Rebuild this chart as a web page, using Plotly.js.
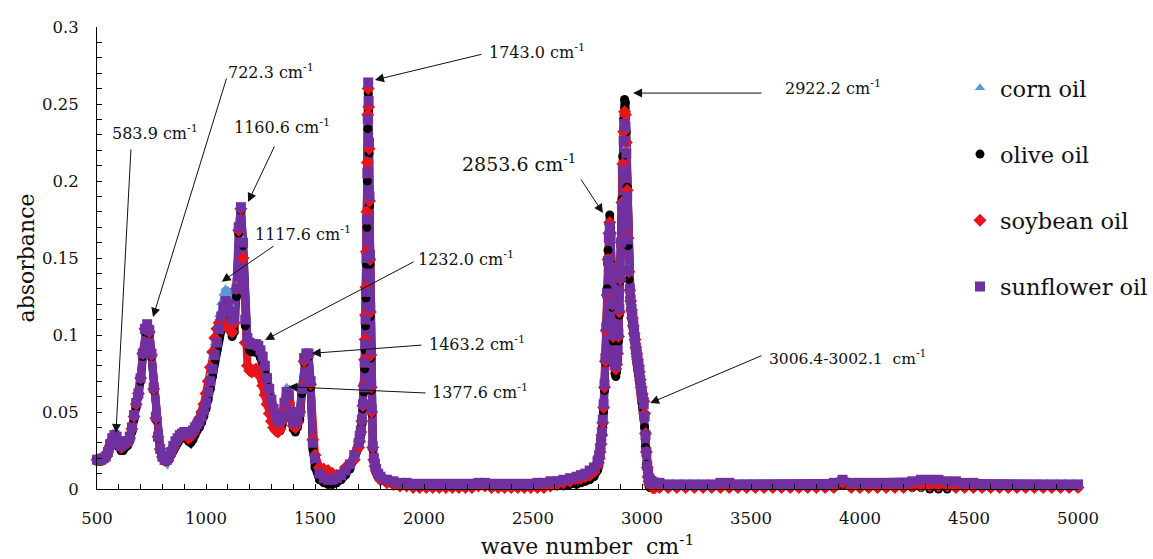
<!DOCTYPE html>
<html>
<head>
<meta charset="utf-8">
<script src="https://cdn.plot.ly/plotly-3.0.1.min.js"></script>
<style>html,body{margin:0;padding:0;background:#fff;}#chart{width:1153px;height:559px;}</style>
</head>
<body>
<div id="chart"></div>
<script>
// wave number (cm-1)
const wavenumber = [
500,510,520,530,540,550,560,570,580,590,
600,610,620,630,640,650,660,670,680,690,
700,710,720,730,740,750,760,770,780,790,
800,810,820,830,840,850,860,870,880,890,
900,910,920,930,940,950,960,970,980,990,
1000,1010,1020,1030,1040,1050,1060,1070,1080,1090,
1100,1110,1120,1130,1140,1150,1160,1170,1180,1190,
1200,1210,1220,1230,1240,1250,1260,1270,1280,1290,
1300,1310,1320,1330,1340,1350,1360,1370,1380,1390,
1400,1410,1420,1430,1440,1450,1460,1470,1480,1490,
1500,1520,1540,1560,1580,1600,1620,1640,1660,1680,1700,
1705,1710,1715,1720,1724,1728,1730,1732,1734,1736,
1738,1740,1742,1744,1746,1748,1750,1752,1754,1756,
1758,1760,1765,1770,1775,1780,1790,
1800,1830,1860,1890,1920,1950,1980,2010,2040,2070,
2100,2130,2160,2190,2220,2250,2280,2310,2340,2370,
2400,2430,2460,2490,2520,2550,2580,2610,2640,2670,
2700,
2720,2740,2760,2780,2796,
2800,2804,2808,2812,2816,2820,2824,2828,2832,2836,
2840,2844,2848,2852,2856,2860,2864,2868,2872,2876,
2880,2884,2888,2892,2896,2900,2904,2908,2912,2916,
2920,2924,2928,2932,2936,2940,2944,2948,2952,2956,
2960,2964,2968,2972,2976,2980,2984,2988,2992,2996,
3000,3004,3008,3012,3016,3020,3024,3028,3032,3036,
3040,3044,3048,3052,3056,3060,
3080,3120,3160,3200,3240,3280,3320,3360,3400,3440,
3480,3520,3560,3600,3640,3680,3720,3760,3800,3840,
3880,3920,3960,4000,4040,4080,4120,4160,4200,4240,
4280,4320,4360,4400,4440,4480,4520,4560,4600,4640,
4680,4720,4760,4800,4840,4880,4920,4960,5000
];

const cornOil = [
.019,.019,.019,.020,.021,.024,.028,.032,.034,.033,
.030,.028,.029,.030,.030,.033,.039,.047,.055,.062,
.072,.088,.104,.106,.102,.086,.064,.046,.033,.025,
.020,.017,.017,.020,.024,.028,.031,.033,.035,.036,
.037,.036,.035,.035,.037,.040,.042,.044,.047,.052,
.058,.066,.075,.085,.095,.104,.113,.121,.127,.130,
.128,.120,.110,.112,.132,.168,.182,.162,.110,.097,
.094,.092,.091,.091,.090,.087,.083,.077,.069,.062,
.056,.050,.045,.043,.045,.050,.059,.066,.064,.052,
.044,.042,.045,.050,.066,.084,.088,.088,.070,.033,
.018,.009,.006,.005,.005,.006,.008,.011,.015,.021,.029,
.032,.037,.044,.054,.065,.080,.092,.108,.126,.148,
.172,.203,.238,.262,.250,.223,.188,.150,.116,.088,
.067,.051,.027,.019,.015,.012,.009,
.007,.005,.004,.003,.002,.002,.002,.002,.002,.002,
.002,.002,.002,.002,.002,.003,.003,.002,.002,.002,
.002,.002,.002,.002,.002,.002,.003,.004,.005,.006,
.006,
.008,.009,.010,.012,.016,
.018,.021,.025,.030,.036,.044,.054,.067,.084,.104,
.126,.147,.162,.168,.162,.143,.119,.099,.087,.081,
.079,.082,.089,.100,.116,.137,.161,.186,.210,.230,
.242,.240,.222,.193,.164,.143,.131,.124,.118,.113,
.108,.103,.098,.093,.089,.085,.081,.077,.072,.067,
.063,.060,.056,.048,.036,.025,.016,.010,.007,.005,
.004,.003,.003,.003,.002,.002,
.002,.002,.002,.002,.002,.002,.002,.002,.002,.002,
.002,.002,.002,.002,.002,.002,.002,.002,.002,.002,
.002,.005,.002,.002,.002,.002,.002,.002,.002,.004,
.004,.004,.004,.004,.002,.002,.002,.002,.002,.002,
.002,.002,.002,.002,.002,.002,.002,.002,.002
];

const oliveOil = [
.018,.018,.018,.019,.020,.022,.027,.031,.033,.032,
.027,.025,.025,.027,.028,.031,.037,.045,.053,.060,
.070,.086,.102,.105,.101,.086,.064,.045,.033,.025,
.020,.018,.018,.019,.022,.025,.028,.030,.032,.033,
.034,.033,.031,.030,.032,.035,.038,.040,.043,.047,
.052,.058,.065,.073,.082,.090,.098,.105,.110,.112,
.110,.105,.099,.102,.125,.166,.181,.158,.106,.093,
.090,.089,.089,.089,.088,.085,.081,.075,.067,.060,
.053,.047,.042,.038,.038,.042,.050,.058,.057,.046,
.039,.037,.040,.045,.062,.082,.086,.086,.066,.026,
.014,.006,.004,.003,.003,.004,.006,.009,.013,.019,.027,
.030,.035,.042,.052,.063,.078,.090,.106,.124,.146,
.170,.200,.234,.257,.246,.218,.184,.146,.112,.085,
.064,.049,.026,.018,.014,.011,.008,
.006,.004,.003,.002,.002,.002,.001,.001,.001,.001,
.001,.001,.001,.001,.001,.002,.002,.001,.001,.001,
.001,.001,.001,.001,.001,.001,.002,.002,.002,.003,
.003,
.004,.005,.006,.008,.012,
.014,.017,.021,.026,.032,.040,.050,.064,.082,.104,
.130,.155,.172,.178,.170,.146,.118,.096,.082,.075,
.073,.076,.084,.096,.113,.135,.160,.188,.216,.240,
.253,.251,.232,.196,.158,.136,.124,.117,.111,.106,
.101,.096,.091,.086,.082,.078,.074,.070,.065,.060,
.056,.053,.049,.040,.027,.016,.008,.004,.002,.001,
.001,.001,.001,.001,.001,.001,
.001,.001,.001,.001,.001,.001,.001,.001,.001,.001,
.001,.001,.001,.001,.001,.001,.001,.001,.001,.001,
.001,.003,.001,.001,.001,.001,.001,.001,.001,.001,
.001,.000,.000,.000,.001,.001,.001,.001,.001,.001,
.001,.001,.001,.001,.001,.001,.001,.001,.001
];

const soybeanOil = [
.019,.019,.019,.020,.021,.024,.028,.032,.034,.033,
.029,.027,.028,.030,.030,.033,.039,.047,.055,.062,
.072,.088,.104,.106,.102,.087,.065,.046,.034,.026,
.021,.019,.019,.021,.024,.027,.030,.032,.034,.035,
.036,.035,.033,.034,.036,.040,.043,.046,.050,.055,
.062,.070,.079,.089,.098,.104,.108,.110,.109,.107,
.105,.103,.102,.108,.130,.168,.182,.150,.095,.080,
.077,.076,.077,.078,.077,.073,.067,.061,.055,.049,
.044,.040,.038,.037,.039,.044,.052,.058,.056,.047,
.041,.040,.043,.050,.066,.083,.087,.087,.068,.032,
.022,.014,.013,.012,.010,.009,.010,.014,.016,.019,.027,
.031,.037,.044,.054,.067,.084,.097,.113,.131,.154,
.180,.212,.243,.260,.248,.221,.187,.149,.115,.087,
.066,.050,.027,.019,.015,.012,.009,
.006,.004,.003,.002,.002,.001,.001,.001,.001,.001,
.001,.001,.001,.001,.001,.002,.002,.001,.001,.001,
.001,.001,.001,.001,.001,.001,.002,.003,.004,.005,
.006,
.007,.008,.009,.011,.015,
.017,.020,.024,.029,.035,.043,.053,.066,.083,.103,
.126,.149,.166,.173,.166,.145,.120,.099,.086,.080,
.078,.081,.088,.099,.115,.136,.160,.186,.211,.232,
.245,.243,.225,.194,.163,.141,.129,.122,.116,.111,
.106,.101,.097,.092,.088,.084,.080,.076,.071,.066,
.062,.059,.057,.049,.036,.024,.014,.008,.005,.003,
.002,.002,.001,.001,.001,.001,
.001,.001,.001,.001,.001,.001,.001,.001,.001,.001,
.001,.001,.001,.001,.001,.001,.001,.001,.001,.001,
.001,.004,.001,.001,.001,.001,.001,.001,.001,.002,
.002,.002,.002,.002,.001,.001,.001,.001,.001,.001,
.001,.001,.001,.001,.001,.001,.001,.001,.001
];

const sunflowerOil = [
.019,.019,.019,.020,.021,.024,.029,.033,.035,.034,
.030,.028,.029,.031,.031,.034,.040,.048,.056,.062,
.072,.088,.104,.107,.103,.088,.066,.047,.034,.026,
.021,.019,.019,.021,.024,.028,.031,.033,.035,.036,
.037,.037,.036,.036,.038,.040,.042,.044,.047,.051,
.056,.063,.070,.078,.087,.095,.104,.112,.118,.122,
.120,.115,.110,.112,.130,.170,.183,.160,.110,.098,
.095,.094,.094,.094,.093,.090,.086,.080,.072,.065,
.058,.052,.047,.044,.044,.048,.056,.063,.061,.050,
.044,.043,.046,.050,.065,.085,.088,.088,.070,.030,
.020,.010,.007,.006,.006,.007,.009,.012,.016,.022,.030,
.033,.038,.045,.055,.066,.082,.094,.110,.128,.150,
.175,.205,.240,.264,.252,.225,.190,.152,.118,.090,
.068,.052,.028,.020,.016,.013,.010,
.008,.006,.005,.004,.004,.003,.003,.003,.003,.003,
.003,.003,.003,.003,.003,.004,.004,.003,.003,.003,
.003,.003,.003,.003,.004,.004,.005,.005,.006,.007,
.008,
.009,.010,.012,.014,.018,
.019,.022,.026,.031,.037,.045,.055,.068,.085,.105,
.127,.148,.163,.170,.164,.144,.120,.100,.088,.082,
.080,.083,.090,.101,.117,.137,.160,.184,.207,.226,
.237,.235,.218,.190,.162,.142,.130,.123,.117,.112,
.107,.102,.097,.092,.088,.084,.080,.076,.071,.066,
.062,.059,.055,.047,.035,.024,.015,.010,.007,.006,
.005,.005,.004,.004,.004,.004,
.004,.003,.003,.003,.003,.003,.003,.004,.004,.003,
.003,.003,.003,.003,.003,.003,.003,.003,.003,.003,
.004,.006,.004,.004,.004,.004,.004,.004,.004,.005,
.006,.006,.006,.005,.005,.004,.004,.003,.003,.003,
.003,.003,.003,.003,.003,.003,.003,.003,.003
];

const seriesNames = ['corn oil', 'olive oil', 'soybean oil', 'sunflower oil'];

// peak labels: [text, x, y]
const peakLabels = [
  ['583.9 cm<sup>-1</sup>', 766, 0.2312],
  ['722.3 cm<sup>-1</sup>', 1298, 0.2708],
  ['1160.6 cm<sup>-1</sup>', 1349, 0.2351],
  ['1117.6 cm<sup>-1</sup>', 1443, 0.1662],
  ['1232.0 cm<sup>-1</sup>', 2193, 0.150],
  ['1463.2 cm<sup>-1</sup>', 2245, 0.0948],
  ['1377.6 cm<sup>-1</sup>', 2257, 0.063],
  ['1743.0 cm<sup>-1</sup>', 2518, 0.2838],
  ['2922.2 cm<sup>-1</sup>', 3876, 0.2604],
  ['3006.4-3002.1 \u00a0cm<sup>-1</sup>', 3943, 0.0857]
];
const bigLabel = ['2853.6 cm<sup>-1</sup>', 2438, 0.2117];
// arrows: [tailX, tailY, tipX, tipY]
const peakArrows = [
  [656, 0.2214, 587, 0.0364],
  [1096, 0.2675, 757, 0.1117],
  [1317, 0.2234, 1193, 0.1864],
  [1317, 0.1584, 1072, 0.1346],
  [1959, 0.148, 1271, 0.0968],
  [1995, 0.0935, 1485, 0.0881],
  [2014, 0.0623, 1378, 0.0664],
  [2271, 0.2825, 1775, 0.2656],
  [3555, 0.2571, 2959, 0.2571],
  [2716, 0.2019, 2821, 0.1792],
  [3555, 0.087, 3037, 0.0558]
];

const serif = 'DejaVu Serif';
const ys = [cornOil, oliveOil, soybeanOil, sunflowerOil];
const styles = [
  {symbol: 'triangle-up', color: '#5b9bd5', size: 9},
  {symbol: 'circle', color: '#000000', size: 9},
  {symbol: 'diamond', color: '#e8141b', size: 10},
  {symbol: 'square', color: '#7030a0', size: 10}
];

// continuous band under the markers (the dense spectra read as a thick band)
const bandTraces = ys.map((y, i) => ({
  type: 'scatter', mode: 'lines', x: wavenumber, y: y,
  legendgroup: 'g' + i, showlegend: false, cliponaxis: false,
  line: {color: styles[i].color, width: 8}, hoverinfo: 'skip'
}));
const markerTraces = ys.map((y, i) => ({
  type: 'scatter', mode: 'markers', x: wavenumber, y: y,
  name: seriesNames[i], legendgroup: 'g' + i, cliponaxis: false,
  marker: {symbol: styles[i].symbol, color: styles[i].color, size: styles[i].size, line: {width: 0}},
  hoverinfo: 'skip'
}));
const traces = bandTraces.concat(markerTraces);

const annotations = [];
peakArrows.forEach(a => annotations.push({
  x: a[2], y: a[3], xref: 'x', yref: 'y', axref: 'x', ayref: 'y', ax: a[0], ay: a[1],
  text: '', showarrow: true, arrowhead: 2, arrowsize: 1.8, arrowwidth: 1, arrowcolor: '#111', standoff: 0, startstandoff: 0
}));
peakLabels.forEach((l, i) => annotations.push({
  x: l[1], y: l[2], xref: 'x', yref: 'y', text: l[0], showarrow: false,
  font: {family: serif, size: i === peakLabels.length - 1 ? 15.5 : 16, color: '#111'},
  xanchor: 'center', yanchor: 'middle'
}));
annotations.push({
  x: bigLabel[1], y: bigLabel[2], xref: 'x', yref: 'y', text: bigLabel[0], showarrow: false,
  font: {family: serif, size: 19, color: '#111'}, xanchor: 'center', yanchor: 'middle'
});

const layout = {
  width: 1153, height: 559,
  margin: {l: 97, r: 75, t: 27, b: 70, pad: 0, autoexpand: false},
  paper_bgcolor: '#ffffff', plot_bgcolor: '#ffffff',
  font: {family: serif, color: '#111', size: 16.5},
  showlegend: true,
  legend: {
    x: 0.8797, xanchor: 'left', y: 0.914, yanchor: 'top',
    font: {family: serif, size: 22.5, color: '#111'},
    tracegroupgap: 34, itemsizing: 'trace', bgcolor: 'rgba(0,0,0,0)', borderwidth: 0
  },
  xaxis: {
    range: [500, 5000], tickmode: 'linear', tick0: 500, dtick: 500,
    ticks: 'inside', ticklen: 5, tickwidth: 1, tickcolor: '#000',
    showline: true, linecolor: '#000', linewidth: 1, mirror: false,
    showgrid: false, zeroline: false, automargin: false,
    tickfont: {family: serif, size: 16.5, color: '#111'}, ticklabelstandoff: 14,
    minor: {tickmode: 'linear', dtick: 100, ticks: 'inside', ticklen: 5, tickwidth: 1, tickcolor: '#000', showgrid: false},
    title: {text: 'wave number \u00a0cm<sup>-1</sup>', font: {family: serif, size: 22, color: '#111'}, standoff: 24}
  },
  yaxis: {
    range: [0, 0.3], tickmode: 'linear', tick0: 0, dtick: 0.05,
    ticks: 'inside', ticklen: 5, tickwidth: 1, tickcolor: '#000',
    showline: true, linecolor: '#000', linewidth: 1, mirror: false,
    showgrid: false, zeroline: false, automargin: false,
    tickfont: {family: serif, size: 16.5, color: '#111'}, ticklabelstandoff: 14,
    minor: {tickmode: 'linear', dtick: 0.01, ticks: 'inside', ticklen: 5, tickwidth: 1, tickcolor: '#000', showgrid: false},
    title: {text: 'absorbance', font: {family: serif, size: 22, color: '#111'}, standoff: 1}
  },
  annotations: annotations
};

Plotly.newPlot('chart', traces, layout, {displayModeBar: false, staticPlot: true});
</script>
</body>
</html>
